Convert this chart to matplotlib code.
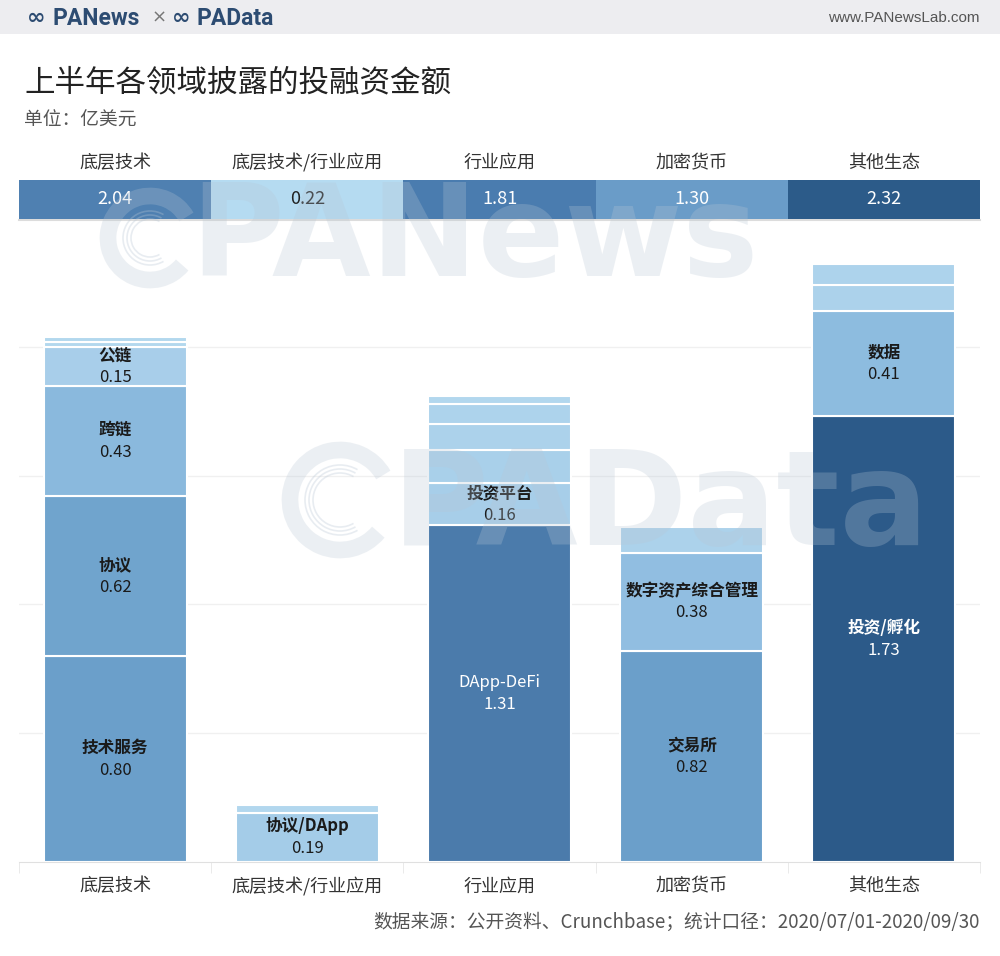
import numpy as np
import matplotlib.pyplot as plt
from matplotlib.patches import Rectangle, Arc

plt.rcParams['font.family'] = ['Noto Sans CJK SC', 'DejaVu Sans']

# 数据 (亿美元)
categories = ['底层技术', '底层技术/行业应用', '行业应用', '加密货币', '其他生态']
totals = [2.04, 0.22, 1.81, 1.30, 2.32]

base_vals = [0.80, 0.62, 0.43, 0.15, 0.02, 0.02]
base_names = ['技术服务', '协议', '跨链', '公链', '', '']
mixed_vals = [0.19, 0.03]
mixed_names = ['协议/DApp', '']
app_vals = [1.31, 0.16, 0.13, 0.10, 0.08, 0.03]
app_names = ['DApp-DeFi', '投资平台', '', '', '', '']
crypto_vals = [0.82, 0.38, 0.10]
crypto_names = ['交易所', '数字资产综合管理', '']
other_vals = [1.73, 0.41, 0.10, 0.08]
other_names = ['投资/孵化', '数据', '', '']

seg_vals = [base_vals, mixed_vals, app_vals, crypto_vals, other_vals]
seg_names = [base_names, mixed_names, app_names, crypto_names, other_names]

strip_colors = ['#4f80b1', '#b5dbf1', '#4a7caf', '#6a9cc8', '#2c5b89']

# 颜色随数值加深
anchor_v = [0.0, 0.17, 0.40, 0.60, 0.82, 1.31, 1.75]
anchor_c = ['#b4d9ef', '#a6cde9', '#8fbde0', '#70a4cd', '#6b9fca', '#4b7bab', '#2a5887']
anchor_rgb = np.array([[int(c[i:i + 2], 16) / 255 for i in (1, 3, 5)] for c in anchor_c])


def value_color(v):
    return tuple(np.interp(v, anchor_v, anchor_rgb[:, k]) for k in range(3))


W, H = 1000, 956
fig = plt.figure(figsize=(10, 9.56), dpi=100)

# 背景层 (像素坐标)
bg = fig.add_axes([0, 0, 1, 1], zorder=0)
bg.set_xlim(0, W)
bg.set_ylim(H, 0)
bg.axis('off')
bg.add_patch(Rectangle((0, 0), W, 34, color='#ededf0', lw=0))
logo = '#2d4c72'
bg.text(27, 18, '∞', fontsize=16, fontweight='bold', color=logo, va='center', ha='left',
        family=['DejaVu Sans'])
bg.text(52, 18, 'PANews', fontsize=16.5, fontweight='bold', color=logo, va='center',
        ha='left', family=['Roboto'])
bg.text(159, 18, '×', fontsize=13, color='#777777', va='center', ha='center',
        family=['DejaVu Sans'])
bg.text(172, 18, '∞', fontsize=16, fontweight='bold', color=logo, va='center', ha='left',
        family=['DejaVu Sans'])
bg.text(197, 18, 'PAData', fontsize=16.5, fontweight='bold', color=logo, va='center',
        ha='left', family=['Roboto'])
bg.text(980, 18, 'www.PANewsLab.com', fontsize=11, color='#555555',
        va='center', ha='right', family=['Liberation Sans'])
bg.text(24, 83, '上半年各领域披露的投融资金额', fontsize=22, color='#222222',
        va='center', ha='left')
bg.text(24, 120, '单位：亿美元', fontsize=13.5, color='#555555', va='center', ha='left')
bg.text(980, 922, '数据来源：公开资料、Crunchbase；统计口径：2020/07/01-2020/09/30',
        fontsize=13.5, color='#555555', va='center', ha='right')

slot = 961 / 5
for i, c in enumerate(categories):
    bg.text(19 + slot * (i + 0.5), 163, c, fontsize=13, color='#333333',
            va='center', ha='center')
bg.plot([19, 980], [220, 220], color='#dcdcdc', lw=1.5)

# 合计色块
sx = fig.add_axes([19 / W, 1 - 219 / H, 961 / W, 39 / H], zorder=1)
sx.bar(range(5), [1] * 5, width=1, color=strip_colors, lw=0)
for i, t in enumerate(totals):
    sx.text(i, 0.5, f'{t:.2f}', ha='center', va='center', fontsize=13,
            color='#222222' if t < 0.5 else 'white')
sx.set_xlim(-0.5, 4.5)
sx.set_ylim(0, 1)
sx.axis('off')

# 堆叠柱
ax = fig.add_axes([19 / W, 1 - 862 / H, 961 / W, 631 / H], zorder=1)
ax.set_facecolor('none')
for i, (vals, names) in enumerate(zip(seg_vals, seg_names)):
    bottom = 0
    for v, n in zip(vals, names):
        ax.bar(i, v, bottom=bottom, width=0.745, color=value_color(v),
               edgecolor='white', linewidth=1.5, zorder=2)
        if n:
            tc = 'white' if v > 1.0 else '#1a1a1a'
            wt = 'normal' if n.isascii() else 'bold'
            mid = bottom + v / 2
            ax.annotate(n, (i, mid), xytext=(0, 8), textcoords='offset points',
                        ha='center', va='center', fontsize=12, fontweight=wt,
                        color=tc, zorder=3)
            ax.annotate(f'{v:.2f}', (i, mid), xytext=(0, -8), textcoords='offset points',
                        ha='center', va='center', fontsize=12, color=tc, zorder=3)
        bottom += v

ax.set_xlim(-0.5, 4.5)
ax.set_ylim(0, 2.45)
ax.set_yticks([0.5, 1.0, 1.5, 2.0])
ax.yaxis.grid(True, color='#f0f0f0', lw=1)
ax.set_axisbelow(True)
ax.tick_params(axis='y', left=False, labelleft=False)
ax.set_xticks(range(5))
ax.set_xticklabels(categories, fontsize=13, color='#333333')
ax.set_xticks(np.arange(-0.5, 5, 1), minor=True)
ax.tick_params(axis='x', which='major', length=0, pad=11)
ax.tick_params(axis='x', which='minor', length=8, color='#e6e6e6')
for s in ['top', 'right', 'left']:
    ax.spines[s].set_visible(False)
ax.spines['bottom'].set_color('#e0e0e0')

# 水印
ov = fig.add_axes([0, 0, 1, 1], zorder=5)
ov.set_facecolor('none')
ov.set_xlim(0, W)
ov.set_ylim(H, 0)
ov.axis('off')
wm = '#b8c6d4'
wa = 0.27
ov.text(190, 276, 'PANews', fontsize=92, fontweight='bold', color=wm, alpha=wa,
        ha='left', va='baseline', family=['DejaVu Sans'])
ov.text(392, 545, 'PAData', fontsize=95, fontweight='bold', color=wm, alpha=wa,
        ha='left', va='baseline', family=['DejaVu Sans'])
for cx, cy, r in [(150, 238, 42), (340, 500, 50)]:
    ov.add_patch(Arc((cx, cy), 2 * r, 2 * r, theta1=40, theta2=330, color=wm,
                     lw=12, alpha=wa))
    for k in range(3):
        rr = 2 * r - 30 - k * 8
        ov.add_patch(Arc((cx, cy), rr, rr, theta1=60, theta2=300, color=wm,
                         lw=1.2, alpha=wa + 0.05))

fig.savefig('out.png', dpi=100)
